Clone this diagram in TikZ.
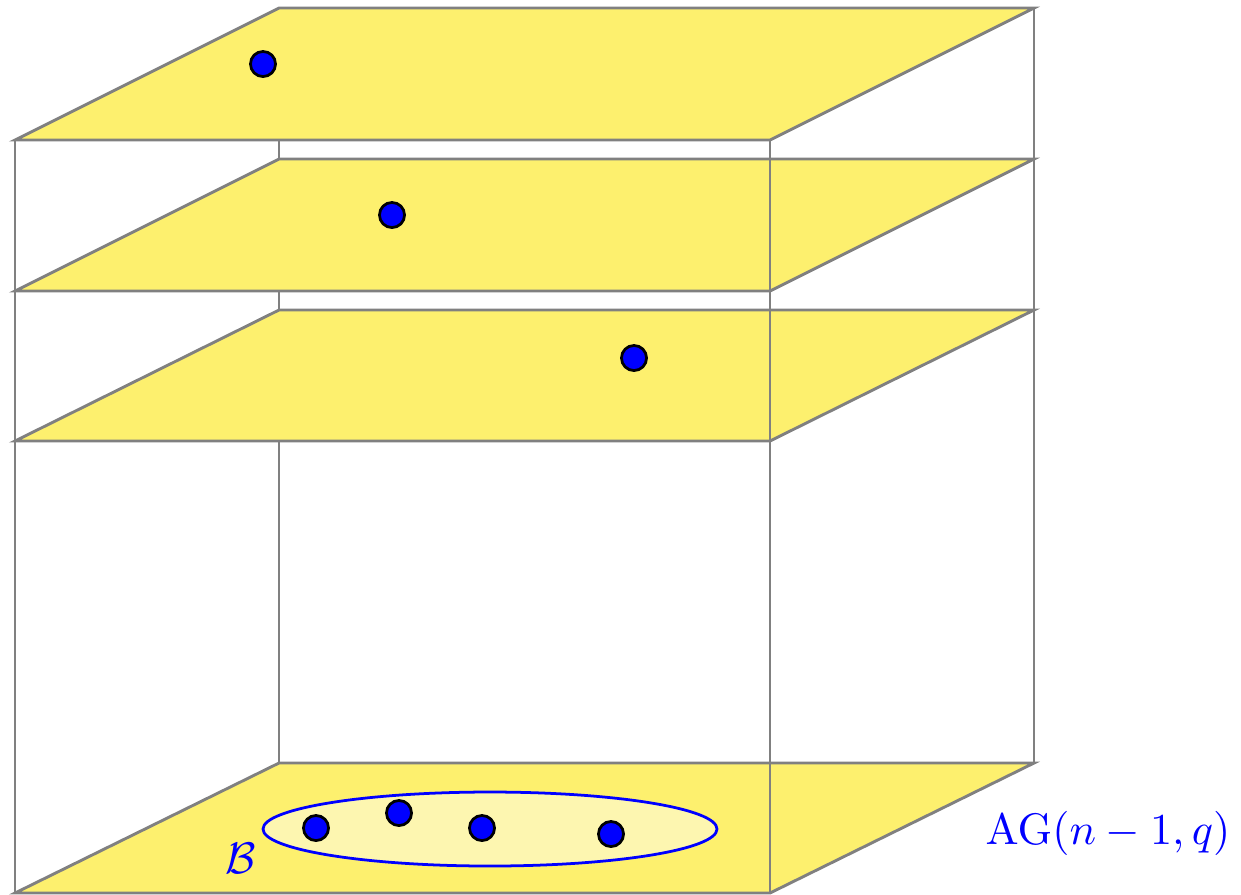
\documentclass[tikz,border=0pt]{standalone}
\usepackage{amsmath}
\begin{document}
\begin{tikzpicture}[x=0.2353pt,y=-0.2353pt,
  edge/.style={draw=gray,line width=0.68pt},
  plane/.style={edge,fill=planeyellow,line join=miter},
  dot/.style={circle,draw=black,fill=blue,line width=0.65pt,minimum size=5.9pt,inner sep=0pt},
  lab/.style={text=blue,inner sep=0pt,scale=1.04}]
\definecolor{planeyellow}{RGB}{253,240,110}
\definecolor{lightyellow}{RGB}{253,246,176}
\useasboundingbox (0,0) rectangle (1241,894);
% back vertical edges
\draw[edge] (279,8) -- (279,763);
% planes
\foreach \f/\b in {893/763, 441/310, 291/159, 140/8}{
  \draw[plane] (15,\f) -- (770,\f) -- (1034,\b) -- (279,\b) -- cycle;
}
% front vertical edges
\draw[edge] (15,140) -- (15,893);
\draw[edge] (770,140) -- (770,893);
\draw[edge] (1034,8) -- (1034,763);
% set B
\draw[blue,fill=lightyellow,line width=0.65pt] (490,829) ellipse [x radius=227, y radius=37];
% points
\node[dot] (p1) at (263,64) {};
\node[dot] (p2) at (392,215) {};
\node[dot] (p3) at (634,358) {};
\node[dot] (b1) at (316,828) {};
\node[dot] (b2) at (399,813) {};
\node[dot] (b3) at (482,828) {};
\node[dot] (b4) at (611,834) {};
% labels
\node[lab] (B) at (241,858) {$\mathcal{B}$};
\node[lab] (AG) at (1108,833) {$\mathrm{AG}(n-1,q)$};
\end{tikzpicture}
\end{document}
